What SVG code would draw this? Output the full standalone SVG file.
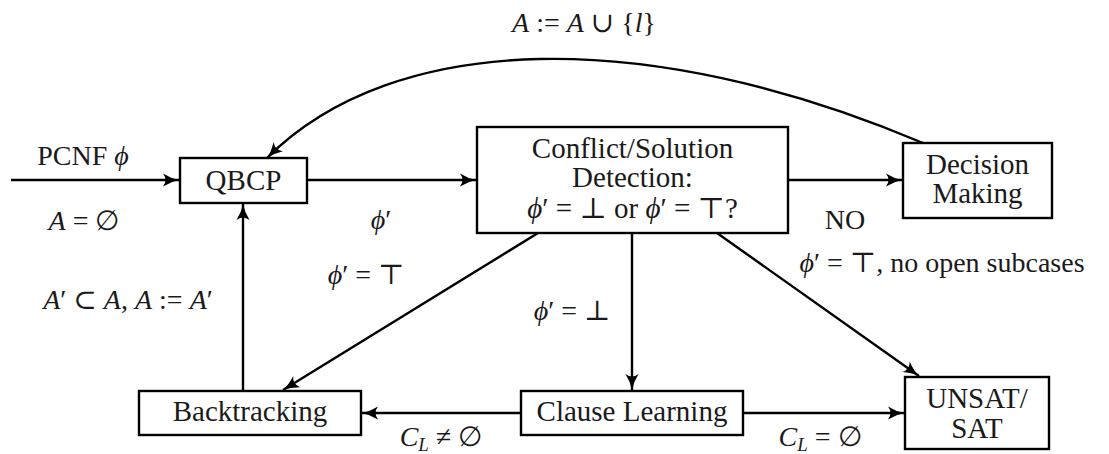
<svg xmlns="http://www.w3.org/2000/svg" width="1109" height="454" viewBox="0 0 1109 454">
<defs>
<marker id="arr" markerUnits="userSpaceOnUse" markerWidth="20" markerHeight="16" viewBox="0 0 20 16" refX="17" refY="8" orient="auto">
<path d="M1,1.5 Q9,6.5 17,8 Q9,9.5 1,14.5 Q6,8 1,1.5 Z" fill="#000"/>
</marker>
<style>
.box{fill:#fff;stroke:#000;stroke-width:2.4}
.lbl{font-family:"Liberation Serif","DejaVu Serif",serif;font-size:29px;fill:#1a1a1a;text-anchor:middle}
.m{font-family:"Liberation Serif","DejaVu Serif",serif;font-size:28px;fill:#1a1a1a;text-anchor:middle}
.i{font-style:italic}
.sub{font-size:19px;font-style:italic}
.edge{fill:none;stroke:#000;stroke-width:2.4;marker-end:url(#arr)}
</style>
</defs>
<rect width="1109" height="454" fill="#fff"/>
<g id="connectors">
<path class="edge" d="M11,180 L179,180"/>
<path class="edge" d="M307,180 L476,180"/>
<path class="edge" d="M788,180 L902,180"/>
<path class="edge" d="M923,143 C647,26 394,31 267,158"/>
<path class="edge" d="M243,391 L243,204"/>
<path class="edge" d="M538,233 L283,390"/>
<path class="edge" d="M632,233 L632,390"/>
<path class="edge" d="M717,233 L919,376"/>
<path class="edge" d="M521,413 L362,413"/>
<path class="edge" d="M743,413 L904,413"/>
</g>
<g id="qbcp"><rect class="box" x="180" y="158" width="127" height="45"/><text class="lbl" x="243.5" y="190">QBCP</text></g>
<g id="conflict"><rect class="box" x="477" y="127" width="311" height="106"/>
<text class="lbl" x="632.5" y="158">Conflict/Solution</text>
<text class="lbl" x="632.5" y="187">Detection:</text>
<text class="lbl" x="632.5" y="218"><tspan class="i">ϕ</tspan>′ = ⊥ or <tspan class="i">ϕ</tspan>′ = ⊤?</text></g>
<g id="decision"><rect class="box" x="903" y="143" width="149" height="75"/>
<text class="lbl" x="977.5" y="174">Decision</text><text class="lbl" x="977.5" y="203">Making</text></g>
<g id="backtracking"><rect class="box" x="139" y="391" width="222" height="44"/><text class="lbl" x="250" y="421">Backtracking</text></g>
<g id="clause"><rect class="box" x="521" y="391" width="222" height="44"/><text class="lbl" x="632" y="421">Clause Learning</text></g>
<g id="unsat"><rect class="box" x="905" y="377" width="144" height="72"/>
<text class="lbl" x="977" y="408">UNSAT/</text><text class="lbl" x="977" y="438">SAT</text></g>
<g id="labels">
<text class="m" x="584" y="32"><tspan class="i">A</tspan> := <tspan class="i">A</tspan> ∪ {<tspan class="i">l</tspan>}</text>
<text class="m" x="83" y="165">PCNF <tspan class="i">ϕ</tspan></text>
<text class="m" x="84" y="230"><tspan class="i">A</tspan> = ∅</text>
<text class="m" x="381" y="229"><tspan class="i">ϕ</tspan>′</text>
<text class="m" x="845" y="229">NO</text>
<text class="m" x="128" y="309"><tspan class="i">A</tspan>′ ⊂ <tspan class="i">A</tspan>, <tspan class="i">A</tspan> := <tspan class="i">A</tspan>′</text>
<text class="m" x="366" y="284"><tspan class="i">ϕ</tspan>′ = ⊤</text>
<text class="m" x="572" y="320"><tspan class="i">ϕ</tspan>′ = ⊥</text>
<text class="m" x="942" y="272"><tspan class="i">ϕ</tspan>′ = ⊤, no open subcases</text>
<text class="m" x="441" y="446"><tspan class="i">C</tspan><tspan class="sub" dy="5">L</tspan><tspan dy="-5"> ≠ ∅</tspan></text>
<text class="m" x="820" y="446"><tspan class="i">C</tspan><tspan class="sub" dy="5">L</tspan><tspan dy="-5"> = ∅</tspan></text>
</g>
</svg>
